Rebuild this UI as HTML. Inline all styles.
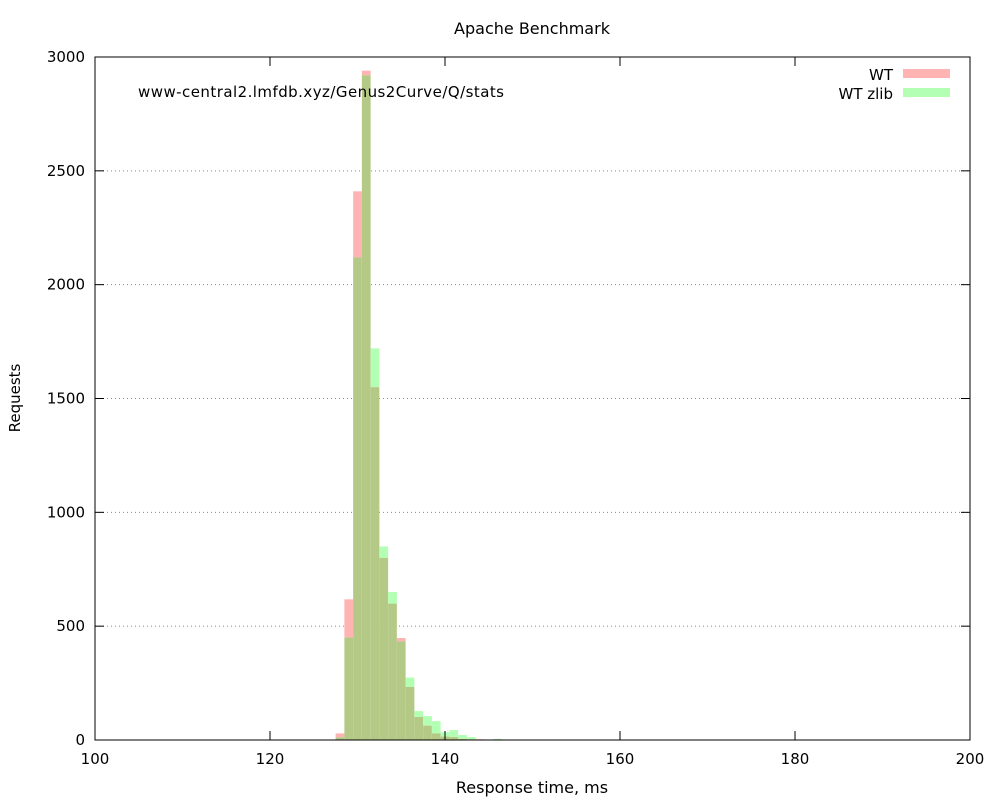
<!DOCTYPE html>
<html><head><meta charset="utf-8"><style>
body{margin:0;background:#fff}
svg text{font-family:"DejaVu Sans","Liberation Sans",sans-serif;font-size:15px;fill:#000}
svg text.big{font-size:16px}
</style></head><body>
<svg id="chart" width="1000" height="800" xmlns="http://www.w3.org/2000/svg">
<rect width="1000" height="800" fill="#fff"/>
<g id="grid"></g>
<g id="bars"></g>
<rect x="95" y="57" width="875" height="683" fill="none" stroke="#000" stroke-width="1"/>
<g id="ticks"></g>
<text class="big" x="532" y="34" text-anchor="middle">Apache Benchmark</text>
<text x="138" y="97" textLength="366">www-central2.lmfdb.xyz/Genus2Curve/Q/stats</text>
<text class="big" x="532" y="793" text-anchor="middle">Response time, ms</text>
<text x="20" y="398" text-anchor="middle" transform="rotate(-90 20 398)">Requests</text>
<g>
<text x="893" y="80" text-anchor="end">WT</text>
<rect x="903" y="69" width="47" height="9" fill="#ffb3b3"/>
<text x="893" y="99" text-anchor="end">WT zlib</text>
<rect x="903" y="88" width="47" height="9" fill="#b3ffb3"/>
</g>
</svg>
<script>
const bins = [128,129,130,131,132,133,134,135,136,137,138,139,140,141,142,143,144,145,146];
const wtValues = [29,618,2410,2940,1550,800,599,448,233,101,63,29,15,13,5,3,3,0,0];
const zlibValues = [12,451,2120,2920,1720,850,650,433,274,127,105,83,34,44,22,13,0,0,5];
const xTicks = [100,120,140,160,180,200];
const yTicks = [0,500,1000,1500,2000,2500,3000];
const NS = "http://www.w3.org/2000/svg";
const X = v => 95 + (v - 100) * 8.75;
const Y = v => 740 - v * 683 / 3000;
function mk(tag, attrs, parent){const e=document.createElementNS(NS,tag);for(const k in attrs)e.setAttribute(k,attrs[k]);parent.appendChild(e);return e;}
const grid=document.getElementById('grid'), bars=document.getElementById('bars'), ticks=document.getElementById('ticks');
yTicks.forEach(t=>{
  if(t>0&&t<3000){const l=mk('line',{x1:95,x2:970,y1:Y(t),y2:Y(t),stroke:'#888','stroke-dasharray':'1,3'},grid);
  
  }
  const a=mk('line',{x1:95,x2:104,y1:Y(t),y2:Y(t),stroke:'#000'},ticks);
  
  
  const b=mk('line',{x1:961,x2:970,y1:Y(t),y2:Y(t),stroke:'#000'},ticks);
  
  
  const tx=mk('text',{x:85,y:Y(t)+5,'text-anchor':'end'},ticks);tx.textContent=t;
  
  
});
xTicks.forEach(t=>{
  const a=mk('line',{x1:X(t),x2:X(t),y1:740,y2:731,stroke:'#000'},ticks);
  
  
  const b=mk('line',{x1:X(t),x2:X(t),y1:57,y2:66,stroke:'#000'},ticks);
  
  
  const tx=mk('text',{x:X(t),y:764,'text-anchor':'middle'},ticks);tx.textContent=t;
  
  
});
bins.forEach((b,i)=>{
  const r=wtValues[i], g=zlibValues[i], lo=Math.min(r,g), hi=Math.max(r,g);
  const x0=X(b-0.5), w=X(b+0.5)-x0;
  if(hi>lo){const e=mk('rect',{x:x0,y:Y(hi),width:w,height:Y(lo)-Y(hi),fill:r>g?'#ffb3b3':'#b3ffb3'},bars);
    
    }
  if(lo>0){const e=mk('rect',{x:x0,y:Y(lo),width:w,height:740-Y(lo),fill:'#b5c986'},bars);
    
    }
});
</script>
</body></html>
